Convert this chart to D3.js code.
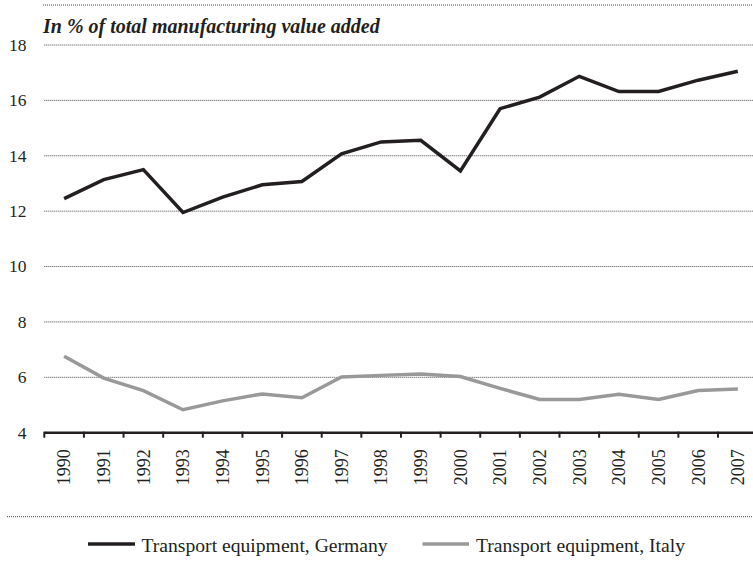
<!DOCTYPE html>
<html>
<head>
<meta charset="utf-8">
<script src="https://cdn.jsdelivr.net/npm/d3@7"></script>
<style>
  html, body { margin: 0; padding: 0; background: #fff; }
  svg { display: block; }
</style>
</head>
<body>
<svg id="chart" width="753" height="572" font-family="Liberation Serif"></svg>
<script>
const years = ["1990","1991","1992","1993","1994","1995","1996","1997","1998","1999","2000","2001","2002","2003","2004","2005","2006","2007"];
const germany = [12.45, 13.14, 13.50, 11.95, 12.51, 12.95, 13.07, 14.07, 14.50, 14.56, 13.45, 15.70, 16.12, 16.87, 16.32, 16.32, 16.73, 17.05];
const italy = [6.76, 5.97, 5.52, 4.83, 5.15, 5.40, 5.26, 6.01, 6.07, 6.12, 6.03, 5.60, 5.20, 5.20, 5.39, 5.20, 5.52, 5.58];
const yTicks = [4, 6, 8, 10, 12, 14, 16, 18];
const seriesNames = ["Transport equipment, Germany", "Transport equipment, Italy"];
const title = "In % of total manufacturing value added";

const FONT = "Liberation Serif";
const TXT = "#231f20";
const W = 753, H = 572;
const svg = d3.select("#chart");

const x = d3.scaleBand().domain(years).range([44.3, 44.3 + 18 * 39.63]).padding(0);
const y = d3.scaleLinear().domain([4, 18]).range([432.7, 45]);

const colors = ["#231f20", "#999999"];

// top and bottom separator dotted lines
svg.append("line").attr("x1", 43).attr("x2", W).attr("y1", 5).attr("y2", 5)
  .attr("stroke", "#444").attr("stroke-width", 1).attr("stroke-dasharray", "1,1");
svg.append("line").attr("x1", 7).attr("x2", W).attr("y1", 516.7).attr("y2", 516.7)
  .attr("stroke", "#444").attr("stroke-width", 1).attr("stroke-dasharray", "1,1");

// gridlines
svg.append("g").selectAll("line").data(yTicks.filter(d => d !== 4)).join("line")
  .attr("x1", 44.3).attr("x2", W)
  .attr("y1", d => y(d)).attr("y2", d => y(d))
  .attr("stroke", "#444").attr("stroke-width", 1).attr("stroke-dasharray", "1,1");

// y labels
svg.append("g").selectAll("text").data(yTicks).join("text")
  .attr("font-family", FONT).attr("fill", TXT)
  .attr("x", 26.5).attr("y", d => y(d)).attr("dy", "0.34em")
  .attr("text-anchor", "end").attr("font-size", 17.5)
  .text(d => d);

// title
const t = svg.append("text").attr("x", 43).attr("y", 33)
  .attr("font-family", FONT).attr("fill", TXT)
  .attr("font-size", 18).attr("font-weight", "bold").attr("font-style", "italic")
  .text(title);
const tl = t.node().getComputedTextLength();
t.attr("font-size", 18 * 337 / tl);

// x axis
const gx = svg.append("g").attr("transform", `translate(0,${y(4)})`);
gx.append("line").attr("x1", 44.3).attr("x2", W).attr("y1", 0).attr("y2", 0)
  .attr("stroke", "#231f20").attr("stroke-width", 2.5);
gx.selectAll("line.tick").data(years).join("line").attr("class", "tick")
  .attr("x1", d => x(d)).attr("x2", d => x(d)).attr("y1", -1).attr("y2", 5)
  .attr("stroke", "#231f20").attr("stroke-width", 2);
gx.selectAll("text").data(years).join("text")
  .attr("font-family", FONT).attr("fill", TXT)
  .attr("transform", d => `translate(${x(d) + x.bandwidth() / 2},16.5) rotate(-90)`)
  .attr("text-anchor", "end").attr("dy", "0.35em").attr("font-size", 18)
  .text(d => d);

// lines
const line = d3.line().x((d, i) => x(years[i]) + x.bandwidth() / 2).y(d => y(d));
[germany, italy].forEach((s, i) => {
  svg.append("path").datum(s).attr("d", line).attr("fill", "none")
    .attr("stroke", colors[i]).attr("stroke-width", 3.5).attr("stroke-linejoin", "miter");
});

// legend
const legend = [
  { x1: 88, x2: 135, tx: 141.5, tw: 246.5 },
  { x1: 422.5, x2: 469, tx: 476, tw: 209 }
];
legend.forEach((l, i) => {
  svg.append("line").attr("x1", l.x1).attr("x2", l.x2).attr("y1", 544).attr("y2", 544)
    .attr("stroke", colors[i]).attr("stroke-width", 3.5);
  const lt = svg.append("text").attr("x", l.tx).attr("y", 551.5).attr("font-size", 19)
    .attr("font-family", FONT).attr("fill", TXT)
    .text(seriesNames[i]);
  const len = lt.node().getComputedTextLength();
  lt.attr("font-size", 19 * l.tw / len);
});
</script>
</body>
</html>
